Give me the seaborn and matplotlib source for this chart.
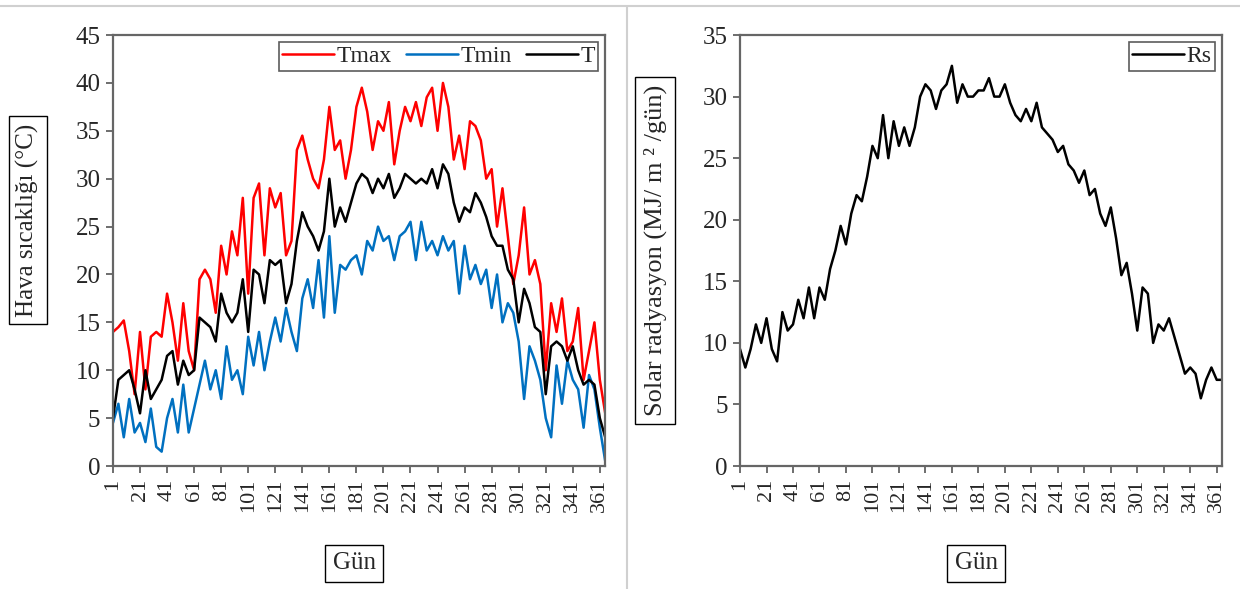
import numpy as np
import pandas as pd
import matplotlib.pyplot as plt
import seaborn as sns
from matplotlib.lines import Line2D

# Gün (her 4 günde bir okunan değerler)
gun = list(range(1, 366, 4))

tmax = [14, 14.5, 15.2, 12, 7.5, 14, 8, 13.5, 14, 13.5, 18, 15, 11, 17, 12, 10,
        19.5, 20.5, 19.5, 16, 23, 20, 24.5, 22, 28, 18, 28, 29.5, 22, 29, 27, 28.5,
        22, 23.5, 33, 34.5, 32, 30, 29, 32, 37.5, 33, 34, 30, 33, 37.5, 39.5, 37,
        33, 36, 35, 38, 31.5, 35, 37.5, 36, 38, 35.5, 38.5, 39.5, 35, 40, 37.5, 32,
        34.5, 31, 36, 35.5, 34, 30, 31, 25, 29, 24, 19, 22, 27, 20, 21.5, 19, 10,
        17, 14, 17.5, 12, 13, 16.5, 9, 12, 15, 9, 5.5]

tmin = [4.5, 6.5, 3, 7, 3.5, 4.5, 2.5, 6, 2, 1.5, 5, 7, 3.5, 8.5, 3.5, 6,
        8.5, 11, 8, 10, 7, 12.5, 9, 10, 7.5, 13.5, 10.5, 14, 10, 13, 15.5, 13,
        16.5, 14, 12, 17.5, 19.5, 16.5, 21.5, 15.5, 24, 16, 21, 20.5, 21.5, 22, 20, 23.5,
        22.5, 25, 23.5, 24, 21.5, 24, 24.5, 25.5, 21.5, 25.5, 22.5, 23.5, 22, 24, 22.5, 23.5,
        18, 23, 19.5, 21, 19, 20.5, 16.5, 20, 15, 17, 16, 13, 7, 12.5, 11, 9, 5,
        3, 10.5, 6.5, 11, 9, 8, 4, 9.5, 8, 4, 0.5]

t_ort = [5, 9, 9.5, 10, 8, 5.5, 10, 7, 8, 9, 11.5, 12, 8.5, 11, 9.5, 10,
         15.5, 15, 14.5, 13, 18, 16, 15, 16, 19.5, 14, 20.5, 20, 17, 21.5, 21, 21.5,
         17, 19, 23.5, 26.5, 25, 24, 22.5, 24.5, 30, 25, 27, 25.5, 27.5, 29.5, 30.5, 30,
         28.5, 30, 29, 30.5, 28, 29, 30.5, 30, 29.5, 30, 29.5, 31, 29, 31.5, 30.5, 27.5,
         25.5, 27, 26.5, 28.5, 27.5, 26, 24, 23, 23, 20.5, 19.5, 15, 18.5, 17, 14.5, 14, 7.5,
         12.5, 13, 12.5, 11, 12.5, 10, 8.5, 9, 8.5, 5, 3]

rs = [9.5, 8, 9.5, 11.5, 10, 12, 9.5, 8.5, 12.5, 11, 11.5, 13.5, 12, 14.5, 12, 14.5,
      13.5, 16, 17.5, 19.5, 18, 20.5, 22, 21.5, 23.5, 26, 25, 28.5, 25, 28, 26, 27.5,
      26, 27.5, 30, 31, 30.5, 29, 30.5, 31, 32.5, 29.5, 31, 30, 30, 30.5, 30.5, 31.5,
      30, 30, 31, 29.5, 28.5, 28, 29, 28, 29.5, 27.5, 27, 26.5, 25.5, 26, 24.5, 24,
      23, 24, 22, 22.5, 20.5, 19.5, 21, 18.5, 15.5, 16.5, 14, 11, 14.5, 14, 10, 11.5, 11,
      12, 10.5, 9, 7.5, 8, 7.5, 5.5, 7, 8, 7, 7]

xticks = list(range(1, 362, 20))

sns.set_style('ticks')
plt.rcParams['font.family'] = ['Liberation Serif', 'DejaVu Serif']

fig = plt.figure(figsize=(12.4, 5.89), dpi=100)
ax1 = fig.add_axes([0.0911, 0.2088, 0.397, 0.7317])
ax2 = fig.add_axes([0.5968, 0.2088, 0.3887, 0.7317])

df = pd.DataFrame({'Gün': gun, 'Tmax': tmax, 'Tmin': tmin, 'T': t_ort, 'Rs': rs})

sns.lineplot(data=df, x='Gün', y='Tmax', ax=ax1, color='#FF0000', lw=1.8, label='Tmax')
sns.lineplot(data=df, x='Gün', y='Tmin', ax=ax1, color='#0070C0', lw=1.8, label='Tmin')
sns.lineplot(data=df, x='Gün', y='T', ax=ax1, color='black', lw=1.8, label='T')
sns.lineplot(data=df, x='Gün', y='Rs', ax=ax2, color='black', lw=1.8, label='Rs')

box = dict(boxstyle='square,pad=0.3', fc='white', ec='black', lw=1)

for ax, ymax, ylab, ylx, yly, ylfs in [(ax1, 45, 'Hava sıcaklığı (°C)', -0.15, 0.57, 18),
                                        (ax2, 35, 'Solar radyasyon (MJ/ m ² /gün)', -0.152, 0.5, 19)]:
    ax.set_xlim(1, 365)
    ax.set_ylim(0, ymax)
    ax.set_yticks(range(0, ymax + 1, 5))
    ax.set_xticks(xticks)
    ax.set_xticklabels([str(v) for v in xticks], rotation=90, fontsize=16)
    ax.tick_params(axis='y', labelsize=18, direction='out', length=5, width=1.2, color='#555555', pad=4)
    ax.tick_params(axis='x', direction='out', length=5, width=1.2, color='#555555', pad=4)
    for sp in ax.spines.values():
        sp.set_color('#666666')
        sp.set_linewidth(1.6)
    ax.set_ylabel(ylab, fontsize=ylfs, bbox=box)
    ax.yaxis.set_label_coords(ylx, yly)
    ax.set_xlabel('Gün', fontsize=18, bbox=box)
    ax.xaxis.set_label_coords(0.49, -0.2)

leg1 = ax1.legend(loc='upper right', ncol=3, fontsize=17, frameon=True, fancybox=False,
                  handlelength=2.2, handletextpad=0.1, columnspacing=0.6,
                  borderpad=0.15, borderaxespad=0.3)
leg1.get_frame().set_edgecolor('#333333')
leg1.get_frame().set_linewidth(1.2)
leg2 = ax2.legend(loc='upper right', fontsize=17, frameon=True, fancybox=False,
                  handlelength=2.2, handletextpad=0.1, borderpad=0.15, borderaxespad=0.3)
leg2.get_frame().set_edgecolor('#333333')
leg2.get_frame().set_linewidth(1.2)

# panel ayırıcı çizgiler
fig.add_artist(Line2D([0.506, 0.506], [0.0, 0.99], color='#d0d0d0', lw=1.5))
fig.add_artist(Line2D([0.0, 1.0], [0.99, 0.99], color='#d0d0d0', lw=1.5))

fig.savefig('out.png', dpi=100)
